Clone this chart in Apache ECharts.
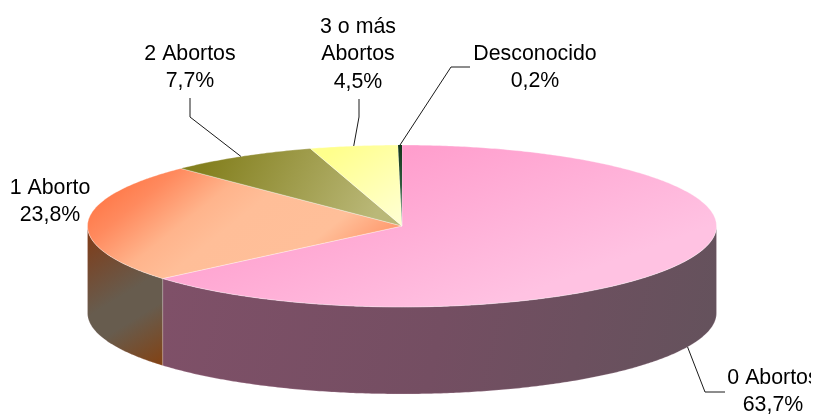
<!DOCTYPE html>
<html><head><meta charset="utf-8">
<style>html,body{margin:0;padding:0;background:#fff}#c{width:811px;height:415px;overflow:hidden}</style>
<script src="https://cdn.jsdelivr.net/npm/echarts@6/dist/echarts.min.js"></script>
</head><body><div id="c"></div>
<script>
// Data
var categories = ['0 Abortos', '1 Aborto', '2 Abortos', '3 o m\u00e1s\nAbortos', 'Desconocido'];
var values = [63.7, 23.8, 7.7, 4.5, 0.2];

// Layout
var CX = 402, CY = 226, RX = 314.5, RY = 81, DEPTH = 87;
var FONT = '21.33px "Liberation Sans", Arial, sans-serif';
var LINE_H = 27.5;
var labelPos = [[773, 364], [50, 174], [190, 40], [358, 13], [535, 40]];
var leaderElbows = [
  [[725, 392], [705, 392]],
  null,
  [[190, 98], [190, 117]],
  [[359, 99], [359, 117]],
  [[470, 67], [451, 67]]
];
var leaderOnWall = [true, false, false, false, false];

// Styles: [x1,y1,x2,y2,[[offset,color],...]]
var topFill = [
  [420, 145, 480, 310, [[0, '#ff9ecd'], [1, '#ffc2e2']]],
  [150, 155, 282, 320, [[0, '#ff7848'], [0.14, '#ff8a5e'], [0.35, '#ffb48c'], [0.5, '#ffbe98'], [0.8, '#ffbf99'], [1, '#ff9a6e']]],
  [215, 145, 370, 225, [[0, '#84801f'], [1, '#bab878']]],
  [340, 145, 395, 225, [[0, '#ffff8c'], [1, '#ffffd2']]],
  [398, 145, 400, 226, [[0, '#12351a'], [0.5, '#2f5a3e'], [1, '#b8d0c0']]]
];
var topStroke = ['rgba(255,255,255,0.55)', 'rgba(255,255,255,0.55)', 'rgba(255,255,255,0.55)', 'rgba(255,255,255,0.55)', null];
var wallFill = [
  [170, 270, 710, 390, [[0, '#7f5068'], [0.5, '#744e62'], [1, '#64525c']]],
  [90, 235, 170, 365, [[0, '#7f3d1a'], [0.45, '#675c4e'], [0.62, '#675c4e'], [1, '#85400f']]],
  null, null, null
];

function gradient(g) {
  return {
    type: 'linear', global: true, x: g[0], y: g[1], x2: g[2], y2: g[3],
    colorStops: g[4].map(function (s) { return { offset: s[0], color: s[1] }; })
  };
}
var total = values.reduce(function (a, b) { return a + b; }, 0);
var cumul = [];
values.reduce(function (a, v, i) { cumul[i] = a; return a + v; }, 0);

function toAngle(v) { return v / total * Math.PI * 2; }       // clockwise from top
function rim(a, dy) { return [CX + RX * Math.sin(a), CY - RY * Math.cos(a) + (dy || 0)]; }
function arc(a0, a1, dy) {
  var n = Math.max(2, Math.ceil((a1 - a0) / 0.01)), pts = [];
  for (var i = 0; i <= n; i++) pts.push(rim(a0 + (a1 - a0) * i / n, dy));
  return pts;
}

function renderItem(params, api) {
  var i = params.dataIndex, v = api.value(0);
  var a0 = toAngle(cumul[i]), a1 = a0 + toAngle(v), mid = (a0 + a1) / 2;
  var kids = [];

  // visible side wall: only the front half of the cylinder
  var w0 = Math.max(a0, Math.PI / 2), w1 = Math.min(a1, Math.PI * 1.5);
  if (w1 > w0 && wallFill[i]) {
    kids.push({
      type: 'polygon', z2: 1,
      shape: { points: arc(w0, w1, 0).concat(arc(w0, w1, DEPTH).reverse()) },
      style: { fill: gradient(wallFill[i]), stroke: 'rgba(255,235,245,0.35)', lineWidth: 0.6 }
    });
  }
  // top face
  kids.push({
    type: 'polygon', z2: 2,
    shape: { points: [[CX, CY]].concat(arc(a0, a1, 0)) },
    style: { fill: gradient(topFill[i]), stroke: topStroke[i], lineWidth: 0.6 }
  });
  // leader line
  if (leaderElbows[i]) {
    kids.push({
      type: 'polyline', z2: 3,
      shape: { points: leaderElbows[i].concat([rim(mid, leaderOnWall[i] ? DEPTH : 0)]) },
      style: { fill: null, stroke: '#1a1a1a', lineWidth: 1 }
    });
  }
  // label
  kids.push({
    type: 'text', z2: 4,
    style: {
      text: categories[i] + '\n' + String(v).replace('.', ',') + '%',
      x: labelPos[i][0], y: labelPos[i][1],
      font: FONT, fill: '#000', align: 'center', verticalAlign: 'top', lineHeight: LINE_H
    }
  });
  return { type: 'group', children: kids };
}

var chart = echarts.init(document.getElementById('c'), null, { renderer: 'canvas' });
chart.setOption({
  animation: false,
  backgroundColor: '#fff',
  series: [{
    type: 'custom',
    coordinateSystem: 'none',
    renderItem: renderItem,
    encode: { value: 0 },
    data: values.map(function (v, i) { return { name: categories[i], value: [v] }; })
  }]
});
</script></body></html>
